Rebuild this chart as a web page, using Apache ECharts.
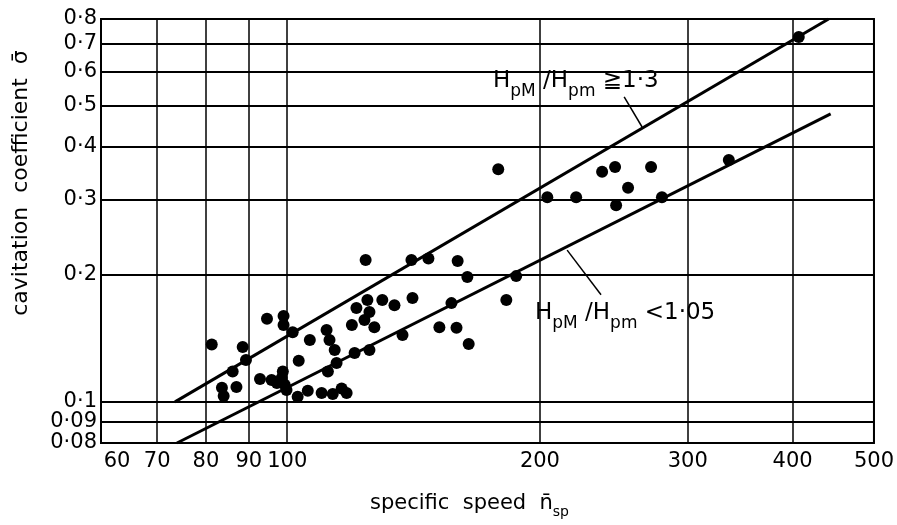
<!DOCTYPE html>
<html>
<head>
<meta charset="utf-8">
<title>Cavitation coefficient</title>
<script src="https://cdn.jsdelivr.net/npm/echarts@6/dist/echarts.min.js"></script>
<style>
  html, body { margin: 0; padding: 0; background: #fff; }
  #main { width: 897px; height: 525px; }
</style>
</head>
<body>
<div id="main"></div>
<script>
// tick values of both log axes
var xTicks = [60, 70, 80, 90, 100, 200, 300, 400, 500];
var yTicks = [0.08, 0.09, 0.1, 0.2, 0.3, 0.4, 0.5, 0.6, 0.7, 0.8];

// measured pumps: specific speed / cavitation coefficient
var speed = [81.3, 83.6, 84.0, 86.1, 87.0, 88.5, 89.3, 92.8, 94.6, 95.8,
             97.2, 98.5, 98.8, 99.0, 99.0, 99.3, 99.8, 101.5, 102.9, 103.2,
             106.4, 105.8, 109.9, 113.3, 116.1, 117.7, 111.4, 112.3, 113.9, 111.8,
             114.5, 119.4, 120.3, 120.9, 123.6, 124.6, 125.3, 127.0, 125.3, 129.8,
             134.2, 141.0, 137.2, 124.0, 140.6, 147.3, 159.6, 163.9, 156.9, 151.8,
             159.1, 164.5, 182.4, 187.4, 178.4, 204.1, 220.9, 237.2, 245.8, 254.7,
             246.5, 271.3, 279.5, 335.8, 406.8];
var sigma = [0.1365, 0.108, 0.1033, 0.118, 0.1085, 0.1347, 0.1255, 0.1133, 0.157, 0.1127,
             0.1108, 0.1138, 0.118, 0.1595, 0.1518, 0.1097, 0.1067, 0.146, 0.1028, 0.125,
             0.140, 0.1062, 0.105, 0.1044, 0.1075, 0.105, 0.1478, 0.140, 0.1325, 0.118,
             0.1235, 0.1518, 0.1304, 0.1665, 0.156, 0.174, 0.163, 0.150, 0.1325, 0.174,
             0.169, 0.1758, 0.1438, 0.216, 0.216, 0.218, 0.215, 0.197, 0.171, 0.150,
             0.1495, 0.137, 0.174, 0.198, 0.354, 0.304, 0.304, 0.349, 0.358, 0.320,
             0.291, 0.358, 0.304, 0.372, 0.7255];

// boundary lines and the leaders of their labels
var upperLine = [[73.5, 0.1], [441.5, 0.8]];
var lowerLine = [[73.9, 0.08], [444, 0.478]];
var upperLeader = [[252, 0.524], [264.7, 0.445]];
var lowerLeader = [[215.5, 0.228], [236.5, 0.179]];

var font = 'DejaVu Sans';
var points = speed.map(function (s, i) { return [s, sigma[i]]; });

function lineSeries(data, width) {
  return {
    type: 'line', data: data, symbol: 'none', silent: true,
    lineStyle: { color: '#000', width: width }
  };
}

// text with subscripts, laid out piece by piece
var ctx = document.createElement('canvas').getContext('2d');
function subText(parts, x, y, big, small, drop) {
  var out = [];
  parts.forEach(function (p) {
    var size = p[1] ? small : big;
    ctx.font = size + 'px ' + font;
    out.push({
      type: 'text', x: x, y: p[1] ? y + drop : y, silent: true,
      style: { text: p[0], fontFamily: font, fontSize: size, fill: '#000', align: 'left', verticalAlign: 'top' }
    });
    x += ctx.measureText(p[0]).width;
  });
  return out;
}

var labelParts1 = [['H', 0], ['pM', 1], [' /H', 0], ['pm', 1], [' \u22671\u00b73', 0]];
var labelParts2 = [['H', 0], ['pM', 1], [' /H', 0], ['pm', 1], [' <1\u00b705', 0]];

var graphics = [
  {
    type: 'text', x: 21, y: 183, rotation: Math.PI / 2, silent: true,
    style: { text: 'cavitation  coefficient  \u03c3\u0304', fontFamily: font, fontSize: 22,
             fill: '#000', align: 'center', verticalAlign: 'middle' }
  }
].concat(
  subText([['specific  speed  n\u0304', 0], ['sp', 1]], 370, 493, 21, 14, 12),
  subText(labelParts1, 493, 70, 23, 17, 13),
  subText(labelParts2, 535, 302, 23, 17, 13)
);

var chart = echarts.init(document.getElementById('main'));
chart.setOption({
  animation: false,
  grid: { left: 101, top: 19, right: 21, bottom: 82, show: true, borderColor: '#000', borderWidth: 2 },
  xAxis: {
    type: 'log', logBase: 10, min: 60, max: 500,
    axisLine: { show: false },
    axisTick: { show: false, customValues: xTicks },
    splitLine: { show: true, lineStyle: { color: '#000', width: 1.5 } },
    axisLabel: {
      customValues: xTicks, margin: 8, color: '#000', fontFamily: font, fontSize: 21,
      formatter: function (v) { return v === 60 ? '{f|60}' : String(v); },
      rich: { f: { padding: [0, 0, 0, 32], color: '#000', fontFamily: font, fontSize: 21 } }
    }
  },
  yAxis: {
    type: 'log', logBase: 10, min: 0.08, max: 0.8,
    axisLine: { show: false },
    axisTick: { show: false, customValues: yTicks },
    splitLine: { show: true, lineStyle: { color: '#000', width: 2 } },
    axisLabel: {
      customValues: yTicks, margin: 4, color: '#000', fontFamily: font, fontSize: 21,
      formatter: function (v) { return String(+v.toPrecision(2)).replace('.', '\u00b7'); }
    }
  },
  graphic: graphics,
  series: [
    lineSeries(upperLine, 3),
    lineSeries(lowerLine, 3),
    lineSeries(upperLeader, 1.5),
    lineSeries(lowerLeader, 1.5),
    {
      type: 'scatter', data: points, symbolSize: 12, silent: true,
      itemStyle: { color: '#000', opacity: 1 }
    }
  ]
});
</script>
</body>
</html>
